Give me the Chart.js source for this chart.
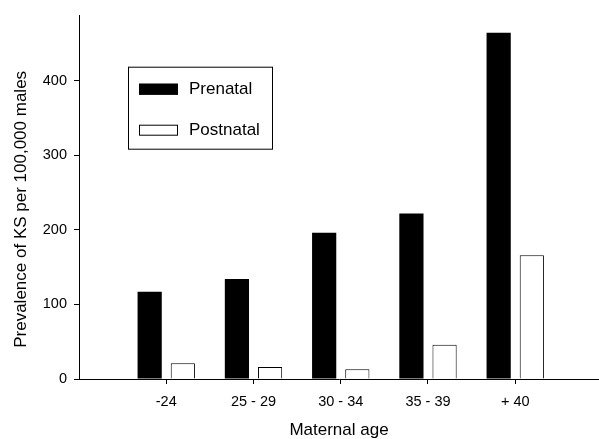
<!DOCTYPE html>
<html>
<head>
<meta charset="utf-8">
<script src="https://cdn.jsdelivr.net/npm/chart.js@4/dist/chart.umd.min.js"></script>
<style>
  html, body { margin: 0; padding: 0; background: #fff; }
  #wrap { width: 599px; height: 439px; }
</style>
</head>
<body>
<div id="wrap"><canvas id="ksChart"></canvas></div>
<script>
const categories = ["-24", "25 - 29", "30 - 34", "35 - 39", "+ 40"];
const prenatal = [117, 134, 196, 222, 464];
const postnatal = [21, 16, 13, 46, 166];
const yTicks = [0, 100, 200, 300, 400];

const font = "'Liberation Sans', Arial, sans-serif";
const yTitle = "Prevalence of KS per 100,000 males";

// legend box inside the plot and the y title, placed like the original
const extras = {
  id: "extras",
  afterDraw(chart) {
    const ctx = chart.ctx;
    const area = chart.chartArea;
    const x = area.left + 49;
    const y = area.top + 51;
    ctx.save();
    ctx.strokeStyle = "#000";
    ctx.lineWidth = 1;
    ctx.fillStyle = "#fff";
    ctx.fillRect(x, y, 144, 82);
    ctx.strokeRect(x + 0.5, y + 0.5, 144, 82);
    ctx.font = "17px " + font;
    ctx.textBaseline = "middle";
    chart.data.datasets.forEach((ds, i) => {
      const cy = y + 22 + i * 41;
      ctx.fillStyle = ds.backgroundColor;
      ctx.fillRect(x + 11, cy - 5, 39, 11);
      ctx.strokeStyle = "#000";
      ctx.strokeRect(x + 11.5, cy - 4.5, 38, 10);
      ctx.fillStyle = "#000";
      ctx.fillText(ds.label, x + 61, cy + 1);
    });

    // y title, a little below the plot centre
    ctx.translate(21, (area.top + area.bottom) / 2 + 12);
    ctx.rotate(-Math.PI / 2);
    ctx.textAlign = "center";
    ctx.fillText(yTitle, 0, 0);
    ctx.restore();
  }
};

new Chart(document.getElementById("ksChart"), {
  type: "bar",
  data: {
    datasets: [
      {
        label: "Prenatal",
        data: prenatal.map((v, i) => ({ x: i + 1, y: v })),
        backgroundColor: "#000",
        borderWidth: 0,
      },
      {
        label: "Postnatal",
        data: postnatal.map((v, i) => ({ x: i + 1, y: v })),
        backgroundColor: "#fff",
        borderColor: "#000",
        borderWidth: 1,
      },
    ],
  },
  options: {
    responsive: true,
    maintainAspectRatio: false,
    animation: false,
    layout: { padding: { top: 14, right: 0, left: 0, bottom: 0 } },
    datasets: {
      bar: { categoryPercentage: 0.76, barPercentage: 0.73 },
    },
    plugins: {
      legend: { display: false },
      tooltip: { enabled: false },
    },
    scales: {
      x: {
        type: "linear",
        min: 0,
        max: 5.96,
        offset: false,
        afterBuildTicks: axis => {
          axis.ticks = categories.map((c, i) => ({ value: i + 1 }));
        },
        afterFit: axis => { axis.height = 60; },
        border: { color: "#000", width: 1 },
        grid: { drawOnChartArea: false, offset: false, color: "#000", tickLength: 5 },
        ticks: {
          color: "#000",
          padding: 9,
          maxRotation: 0,
          font: { family: font, size: 14.5 },
          callback: v => categories[v - 1] ?? "",
        },
        title: {
          display: true,
          text: "Maternal age",
          color: "#000",
          font: { family: font, size: 17 },
          padding: { top: 2, bottom: -2 },
        },
      },
      y: {
        min: 0,
        max: 487,
        afterBuildTicks: axis => {
          axis.ticks = yTicks.map(v => ({ value: v }));
        },
        afterFit: axis => { axis.width = 79; },
        border: { color: "#000", width: 1 },
        grid: { drawOnChartArea: false, color: "#000", tickLength: 5 },
        ticks: {
          color: "#000",
          padding: 7,
          font: { family: font, size: 14.5 },
        },
      },
    },
  },
  plugins: [extras],
});
</script>
</body>
</html>
